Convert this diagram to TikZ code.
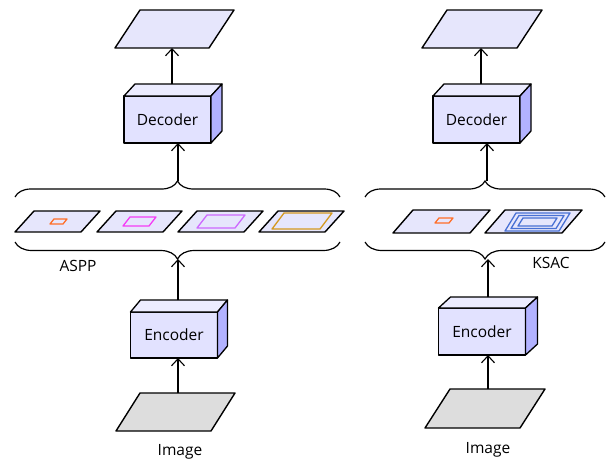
\documentclass[tikz,border=0pt]{standalone}
\usepackage{fontspec}
\setmainfont{Open Sans}
\usetikzlibrary{arrows.meta,decorations.pathreplacing,calc}
\definecolor{parfill}{RGB}{230,230,252}
\definecolor{boxfront}{RGB}{226,226,255}
\definecolor{boxtop}{RGB}{236,236,255}
\definecolor{boxside}{RGB}{178,178,255}
\definecolor{imgfill}{RGB}{221,221,221}
\definecolor{corange}{RGB}{255,110,40}
\definecolor{cmagenta}{RGB}{245,60,245}
\definecolor{cviolet}{RGB}{205,105,255}
\definecolor{cgold}{RGB}{212,152,30}
\definecolor{cblue}{RGB}{72,112,212}
\newcommand\boxfaces[3]{%
  \draw[boxline, fill=boxtop] (#1.north west) -- ++(#2,-#3) -- ([xshift=#2pt,yshift=#3pt]#1.north east) -- (#1.north east) -- cycle;
  \draw[boxline, fill=boxside] (#1.north east) -- ++(#2,-#3) -- ([xshift=#2pt,yshift=#3pt]#1.south east) -- (#1.south east) -- cycle;
}
\newcommand\parashape[3]{%
  \draw[#3] (#1.south west) -- ([xshift=-#2pt]#1.south east) -- (#1.north east) -- ([xshift=#2pt]#1.north west) -- cycle;
}
\newcommand\ipara[6]{%
  \draw[innerline,#6] (#1,#4) -- ({#2-#5},#4) -- (#2,#3) -- ({#1+#5},#3) -- cycle;
}
\begin{document}
\begin{tikzpicture}[x=1pt,y=-1pt,
  boxline/.style={line width=1.3pt, line join=round},
  cube/.style={draw, boxline, fill=boxfront, minimum width=87pt, minimum height=47pt, inner sep=0pt, outer sep=0pt, font=\fontsize{15.5}{17}\selectfont},
  pbox/.style={inner sep=0pt, outer sep=0pt},
  parline/.style={line width=1.4pt, line join=round, fill=parfill},
  imgline/.style={line width=1.4pt, line join=round, fill=imgfill},
  innerline/.style={line width=1.3pt, line join=round},
  bracestyle/.style={line width=1.2pt, decorate},
  arr/.style={-{Straight Barb[length=7pt,width=13pt,line width=1.1pt]}, line width=1.2pt},
  lbl/.style={inner sep=0pt, font=\fontsize{15.5}{17}\selectfont}]
\useasboundingbox (0,0) rectangle (609,460);

% ---------------- left column ----------------
\node[pbox, minimum width=119pt, minimum height=38pt] (out1) at (174.5,29) {};
\parashape{out1}{25}{parline}
\node[cube] (dec1) at (167.5,119.5) {Decoder};
\boxfaces{dec1}{11}{12}

\draw[bracestyle, decoration={brace, amplitude=16pt}] (15,197) -- (340,197);
\coordinate (bt1) at (178,181);
\coordinate (ot1) at (172,48);

\node[pbox, minimum width=85pt, minimum height=21pt] (p11) at (57.5,221.5) {};
\node[pbox, minimum width=85pt, minimum height=21pt] (p12) at (139.5,221.5) {};
\node[pbox, minimum width=85pt, minimum height=21pt] (p13) at (220.5,221.5) {};
\node[pbox, minimum width=85pt, minimum height=21pt] (p14) at (301.5,221.5) {};
\parashape{p11}{19}{parline}
\parashape{p12}{19}{parline}
\parashape{p13}{19}{parline}
\parashape{p14}{19}{parline}
\ipara{50}{67}{219}{224}{4}{corange}
\ipara{123}{156}{217}{226}{7}{cmagenta}
\ipara{197}{245}{215}{228}{10}{cviolet}
\ipara{272}{332}{213}{229}{12}{cgold}

\draw[bracestyle, decoration={brace, amplitude=17pt}] (340,242) -- (15,242);
\coordinate (bb1) at (178,259);
\node[lbl] (aspp) at (78,266) {ASPP};

\node[cube, minimum height=46pt] (enc1) at (174,335) {Encoder};
\boxfaces{enc1}{10}{12}

\node[pbox, minimum width=119pt, minimum height=38pt] (img1) at (175.5,412) {};
\parashape{img1}{24}{imgline}
\node[lbl] (imgt1) at (180,452) {Image};

\draw[arr] ([yshift=12pt]dec1.north -| ot1) -- (ot1 |- out1.south);
\draw[arr] (bt1) -- (bt1 |- dec1.south);
\draw[arr] ([yshift=12pt]enc1.north -| bb1) -- (bb1);
\draw[arr] (bb1 |- img1.north) -- (bb1 |- enc1.south);

% ---------------- right column ----------------
\node[pbox, minimum width=120pt, minimum height=38pt] (out2) at (482,29) {};
\parashape{out2}{25}{parline}
\node[cube] (dec2) at (476.5,119.5) {Decoder};
\boxfaces{dec2}{11}{12}

\draw[bracestyle, decoration={brace, amplitude=16pt}] (365,197) -- (605,197);
\coordinate (bt2) at (487,181);
\coordinate (ot2) at (481,48);

\node[pbox, minimum width=97pt, minimum height=23pt] (p21) at (441.5,221.5) {};
\node[pbox, minimum width=97pt, minimum height=23pt] (p22) at (533.5,221.5) {};
\parashape{p21}{20}{parline}
\parashape{p22}{20}{parline}
\ipara{435}{453}{218}{223}{4}{corange}
\ipara{505}{570}{213}{231}{11}{cblue}
\ipara{511}{564}{215.5}{228.5}{8}{cblue}
\ipara{518}{557}{218}{226}{5}{cblue}

\draw[bracestyle, decoration={brace, amplitude=17pt}] (605,242) -- (365,242);
\coordinate (bb2) at (488,259);
\node[lbl] (ksac) at (551,263) {KSAC};

\node[cube, minimum height=47pt] (enc2) at (482,331.5) {Encoder};
\boxfaces{enc2}{12}{11}

\node[pbox, minimum width=120pt, minimum height=39pt] (img2) at (485,408.5) {};
\parashape{img2}{25}{imgline}
\node[lbl] (imgt2) at (488,450) {Image};

\draw[arr] ([yshift=12pt]dec2.north -| ot2) -- (ot2 |- out2.south);
\draw[arr] (bt2) -- (bt2 |- dec2.south);
\draw[arr] ([yshift=11pt]enc2.north -| bb2) -- (bb2);
\draw[arr] (bb2 |- img2.north) -- (bb2 |- enc2.south);
\end{tikzpicture}
\end{document}
